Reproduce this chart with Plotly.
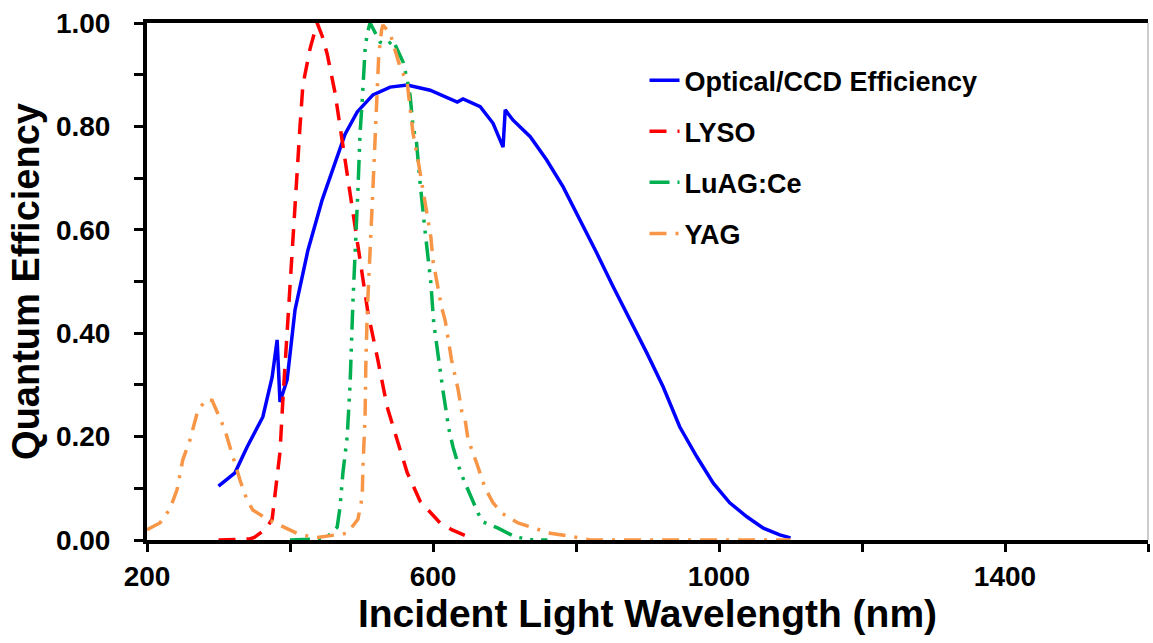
import plotly.graph_objects as go

# ---- data (wavelength nm, quantum efficiency) ----
ccd_nm = [300, 323, 340, 362, 375, 382, 386, 396, 407, 425, 445, 470, 477, 494, 516, 540, 564,
          596, 634, 642, 666, 684, 698, 701, 712, 736, 759, 782, 806, 829, 852, 876, 899, 922,
          945, 969, 992, 1015, 1039, 1062, 1085, 1100]
ccd_qe = [0.104, 0.13, 0.18, 0.238, 0.315, 0.387, 0.267, 0.31, 0.445, 0.56, 0.658, 0.754, 0.785,
          0.828, 0.861, 0.876, 0.88, 0.87, 0.847, 0.853, 0.838, 0.806, 0.76, 0.832, 0.812, 0.78,
          0.735, 0.683, 0.619, 0.555, 0.49, 0.425, 0.362, 0.296, 0.219, 0.161, 0.11, 0.072,
          0.045, 0.023, 0.01, 0.004]

lyso_nm = [300, 344, 350, 365, 375, 386, 390, 397, 407, 414, 418, 428, 438, 445, 452, 463, 470,
           477, 484, 509, 522, 536, 550, 564, 582, 596, 610, 626, 640, 651]
lyso_qe = [0.0, 0.002, 0.005, 0.02, 0.04, 0.17, 0.27, 0.425, 0.67, 0.80, 0.88, 0.95, 1.0, 0.975,
           0.94, 0.865, 0.80, 0.735, 0.677, 0.44, 0.354, 0.257, 0.193, 0.13, 0.075, 0.055,
           0.033, 0.02, 0.012, 0.005]

luag_nm = [400, 450, 466, 470, 474, 480, 484, 488, 495, 498, 501, 505, 508, 512, 526, 536, 544,
           554, 558, 564, 568, 572, 577, 582, 586, 589, 593, 597, 601, 604, 610, 614, 618, 622,
           628, 634, 638, 648, 655, 663, 670, 691, 715, 740, 760]
luag_qe = [0.0, 0.003, 0.025, 0.064, 0.13, 0.2, 0.3, 0.46, 0.677, 0.787, 0.85, 0.948, 0.98, 1.0,
           0.963, 0.957, 0.967, 0.938, 0.925, 0.89, 0.86, 0.80, 0.768, 0.69, 0.63, 0.596, 0.547,
           0.497, 0.42, 0.387, 0.323, 0.288, 0.253, 0.216, 0.18, 0.155, 0.133, 0.10, 0.077,
           0.052, 0.035, 0.023, 0.006, 0.0, 0.0]

yag_nm = [200, 204, 218, 232, 242, 250, 260, 271, 283, 291, 299, 309, 316, 323, 330, 340, 348,
          369, 396, 414, 438, 470, 480, 495, 501, 502, 505, 506, 508, 516, 519, 522, 524, 528,
          530, 540, 544, 550, 554, 564, 568, 572, 579, 586, 592, 597, 600, 607, 612, 617, 621,
          626, 635, 640, 645, 649, 661, 673, 684, 696, 719, 750, 764, 789, 820, 1100]
yag_qe = [0.02, 0.023, 0.033, 0.06, 0.097, 0.155, 0.193, 0.25, 0.272, 0.27, 0.245, 0.213, 0.18,
          0.148, 0.116, 0.077, 0.058, 0.04, 0.023, 0.01, 0.005, 0.01, 0.013, 0.04, 0.083, 0.14,
          0.238, 0.335, 0.44, 0.68, 0.774, 0.884, 0.934, 0.986, 0.996, 0.98, 0.96, 0.93, 0.915,
          0.884, 0.838, 0.787, 0.735, 0.68, 0.625, 0.586, 0.54, 0.49, 0.45, 0.425, 0.39, 0.348,
          0.292, 0.25, 0.232, 0.195, 0.149, 0.10, 0.072, 0.052, 0.033, 0.02, 0.013, 0.008, 0.0,
          0.0]

series_names = ["Optical/CCD Efficiency", "LYSO", "LuAG:Ce", "YAG"]

FONT = "Liberation Sans, Arial, sans-serif"

fig = go.Figure()
specs = [
    (ccd_nm, ccd_qe, series_names[0], "#0000FF", "solid"),
    (lyso_nm, lyso_qe, series_names[1], "#FF0000", "17px,11px"),
    (luag_nm, luag_qe, series_names[2], "#00B050", "20px,8px,3px,8px,3px,8px"),
    (yag_nm, yag_qe, series_names[3], "#F79646", "17px,9px,3px,9px"),
]
for i, (x, y, name, color, dash) in enumerate(specs):
    fig.add_trace(go.Scatter(
        x=x, y=y, name=name, mode="lines", legendgroup=f"g{i}",
        line=dict(color=color, width=3.5, dash=dash),
    ))

fig.update_layout(
    width=1153, height=643,
    margin=dict(l=147, r=5, t=23, b=103),
    plot_bgcolor="white", paper_bgcolor="white",
    font=dict(family=FONT, color="black"),
    legend=dict(
        x=0.497, y=0.936, xanchor="left", yanchor="top",
        font=dict(size=27, weight="bold", family=FONT),
        traceorder="grouped", tracegroupgap=13,
        bgcolor="rgba(0,0,0,0)", itemwidth=30,
    ),
    showlegend=True,
)
fig.update_xaxes(
    range=[200, 1600], tick0=200, dtick=400,
    showline=True, linecolor="black", linewidth=4, mirror=True,
    ticks="outside", ticklen=8, tickwidth=3, tickcolor="black",
    minor=dict(dtick=200, ticks="outside", ticklen=8, tickwidth=3, tickcolor="black"),
    showgrid=False, zeroline=False,
    tickfont=dict(size=28, weight="bold", family=FONT),
    title=dict(text="Incident Light Wavelength (nm)", font=dict(size=39, weight="bold", family=FONT),
               standoff=8),
)
fig.update_yaxes(
    range=[0, 1], dtick=0.2, tickformat=".2f",
    showline=True, linecolor="black", linewidth=4,
    ticks="outside", ticklen=9, tickwidth=3, tickcolor="black",
    minor=dict(dtick=0.1, ticks="outside", ticklen=9, tickwidth=3, tickcolor="black"),
    showgrid=False, zeroline=False,
    ticklabelstandoff=18,
    tickfont=dict(size=28, weight="bold", family=FONT),
    title=dict(text="Quantum Efficiency", font=dict(size=38, weight="bold", family=FONT),
               standoff=6),
)
# thin right border of plot area
fig.add_shape(type="line", xref="paper", yref="paper", x0=1, x1=1, y0=0, y1=1,
              line=dict(color="#999999", width=1))

fig.write_html("out.html")
